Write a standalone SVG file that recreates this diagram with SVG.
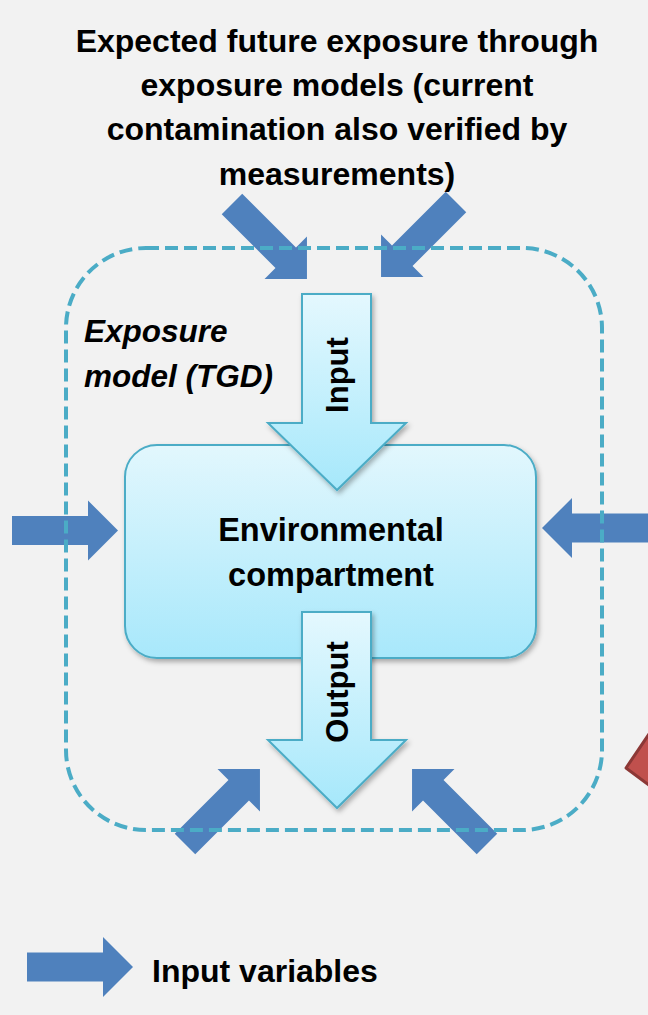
<svg xmlns="http://www.w3.org/2000/svg" xmlns:xlink="http://www.w3.org/1999/xlink" width="648" height="1015" viewBox="0 0 648 1015">
<defs>
<style>
.t{font-family:"Liberation Sans",Arial,sans-serif;font-weight:bold;fill:#000}
.blue{fill:#4f81bd}
.cyan{stroke:#4bacc6;stroke-width:2}
</style>
<linearGradient id="gBox" x1="0" y1="0" x2="0" y2="1">
<stop offset="0" stop-color="#e2f7fd"/>
<stop offset="1" stop-color="#a8e8fb"/>
</linearGradient>
<linearGradient id="gIn" gradientUnits="userSpaceOnUse" x1="0" y1="294" x2="0" y2="490">
<stop offset="0" stop-color="#e4f8fe"/>
<stop offset="1" stop-color="#a6e8fb"/>
</linearGradient>
<linearGradient id="gOut" gradientUnits="userSpaceOnUse" x1="0" y1="612" x2="0" y2="808">
<stop offset="0" stop-color="#e4f8fe"/>
<stop offset="1" stop-color="#a6e8fb"/>
</linearGradient>
<filter id="sh" x="-20%" y="-20%" width="140%" height="140%">
<feDropShadow dx="2" dy="3" stdDeviation="2.5" flood-color="#000" flood-opacity="0.3"/>
</filter>
<path id="arr" d="M0,-14.5 H76 V-30 L106,0 L76,30 V14.5 H0 Z"/>
</defs>
<rect x="0" y="0" width="648" height="1015" fill="#f2f2f2"/>

<g id="title">
<text class="t" font-size="32" text-anchor="middle" x="337" y="52">Expected future exposure through</text>
<text class="t" font-size="32" text-anchor="middle" x="337" y="96">exposure models (current</text>
<text class="t" font-size="32" text-anchor="middle" x="337" y="140">contamination also verified by</text>
<text class="t" font-size="32" text-anchor="middle" x="337" y="185">measurements)</text>
</g>

<g id="red-shape">
<polygon points="626,768 672,700 690,790 672,802" fill="#c0504d" stroke="#8c3836" stroke-width="3" stroke-linejoin="round"/>
</g>

<g id="connectors">
<use xlink:href="#arr" class="blue" transform="translate(232,204) rotate(45)"/>
<use xlink:href="#arr" class="blue" transform="translate(456,202) rotate(135)"/>
<use xlink:href="#arr" class="blue" transform="translate(12,530.5)"/>
<use xlink:href="#arr" class="blue" transform="translate(648,528) rotate(180)"/>
<use xlink:href="#arr" class="blue" transform="translate(185,844) rotate(-45)"/>
<use xlink:href="#arr" class="blue" transform="translate(487,844) rotate(-135)"/>
</g>

<g id="exposure-model">
<rect x="66" y="248" width="536" height="582" rx="80" ry="80" fill="none" stroke="#4bacc6" stroke-width="4" stroke-dasharray="13 6"/>
<text class="t" font-size="31.5" font-style="italic" x="84" y="342">Exposure</text>
<text class="t" font-size="31.5" font-style="italic" x="84" y="387">model (TGD)</text>
</g>

<g id="environmental-compartment">
<rect x="125" y="445" width="411" height="213" rx="32" ry="32" fill="url(#gBox)" class="cyan" filter="url(#sh)"/>
<text class="t" font-size="32.5" text-anchor="middle" x="331" y="541">Environmental</text>
<text class="t" font-size="32.5" text-anchor="middle" x="331" y="586">compartment</text>
</g>

<g id="input">
<path d="M302,294 H371 V423 H406 L337,490 L268,423 H302 Z" fill="url(#gIn)" class="cyan" filter="url(#sh)"/>
<text class="t" font-size="31" text-anchor="middle" transform="translate(348,375) rotate(-90)">Input</text>
</g>

<g id="output">
<path d="M302,612 H371 V740 H406 L337,808 L268,740 H302 Z" fill="url(#gOut)" class="cyan" filter="url(#sh)"/>
<text class="t" font-size="31" text-anchor="middle" transform="translate(348,692) rotate(-90)">Output</text>
</g>

<g id="legend">
<use xlink:href="#arr" class="blue" transform="translate(27,967)"/>
<text class="t" font-size="32" x="152" y="982">Input variables</text>
</g>
</svg>
